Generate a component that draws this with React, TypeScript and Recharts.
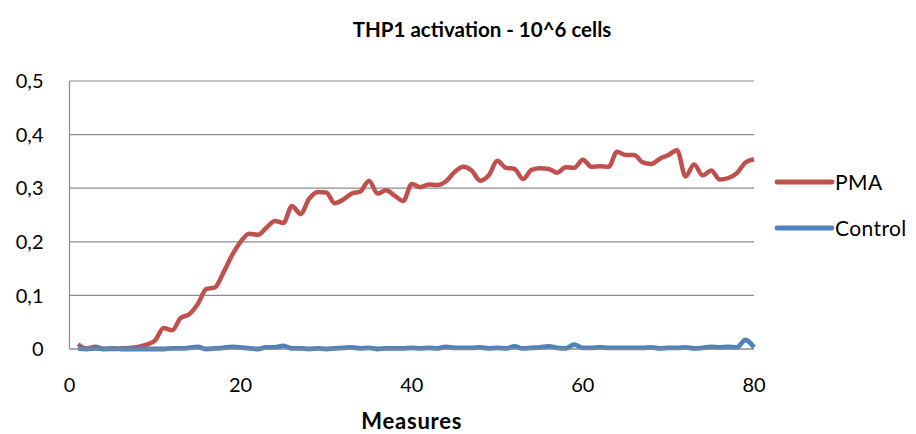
import React from 'react';
import { LineChart, Line, XAxis, YAxis, CartesianGrid } from 'recharts';

const measures = [
  1, 2, 3, 4, 5, 6, 7, 8, 9, 10, 11, 12, 13, 14, 15, 16, 17, 18, 19, 20,
  21, 22, 23, 24, 25, 26, 27, 28, 29, 30, 31, 32, 33, 34, 35, 36, 37, 38, 39, 40,
  41, 42, 43, 44, 45, 46, 47, 48, 49, 50, 51, 52, 53, 54, 55, 56, 57, 58, 59, 60,
  61, 62, 63, 64, 65, 66, 67, 68, 69, 70, 71, 72, 73, 74, 75, 76, 77, 78, 79, 80,
];

const pma = [
  0.009, 0.001, 0.004, 0.0, 0.0, 0.001, 0.002, 0.004, 0.008, 0.016,
  0.039, 0.035, 0.058, 0.065, 0.084, 0.112, 0.115, 0.143, 0.175, 0.2,
  0.215, 0.213, 0.226, 0.239, 0.235, 0.267, 0.252, 0.28, 0.293, 0.292,
  0.272, 0.279, 0.29, 0.294, 0.314, 0.29, 0.296, 0.286, 0.276, 0.308,
  0.302, 0.307, 0.306, 0.313, 0.33, 0.34, 0.333, 0.314, 0.324, 0.351,
  0.338, 0.336, 0.317, 0.334, 0.337, 0.336, 0.329, 0.339, 0.338, 0.353,
  0.34, 0.341, 0.34, 0.368, 0.362, 0.362, 0.348, 0.345, 0.355, 0.362,
  0.371, 0.322, 0.344, 0.324, 0.333, 0.316, 0.319, 0.328, 0.348, 0.354,
];

const control = [
  0.001, 0.0, 0.001, 0.0, 0.001, 0.0, 0.0, 0.0, 0.0, 0.0,
  0.0, 0.001, 0.001, 0.002, 0.004, 0.0, 0.001, 0.002, 0.004, 0.003,
  0.001, 0.0, 0.003, 0.003, 0.006, 0.001, 0.001, 0.0, 0.001, 0.0,
  0.001, 0.002, 0.003, 0.001, 0.002, 0.0, 0.001, 0.001, 0.001, 0.002,
  0.001, 0.002, 0.001, 0.004, 0.002, 0.002, 0.002, 0.003, 0.001, 0.002,
  0.001, 0.005, 0.001, 0.002, 0.003, 0.005, 0.002, 0.001, 0.008, 0.002,
  0.002, 0.003, 0.002, 0.002, 0.002, 0.002, 0.002, 0.003, 0.001, 0.002,
  0.002, 0.003, 0.001, 0.002, 0.004, 0.003, 0.004, 0.003, 0.017, 0.003,
];

const xTicks = [0, 20, 40, 60, 80];
const yTicks = [0, 0.1, 0.2, 0.3, 0.4, 0.5];

const seriesNames = ['PMA', 'Control'];
const seriesColors = ['#C0504D', '#4F81BD'];

const data = measures.map((m, i) => ({ measure: m, pma: pma[i], control: control[i] }));

const FONT = 'Lato, "Open Sans", sans-serif';
const GRID = '#8c8c8c';

const App: React.FC = () => {
  return (
    <div style={{ position: 'relative', width: 900, height: 426, fontFamily: FONT }}>
      <LineChart
        width={900}
        height={426}
        data={data}
        margin={{ top: 73, right: 154, left: 0, bottom: 0 }}
      >
        <CartesianGrid vertical={false} stroke={GRID} strokeWidth={1.2} />
        <XAxis
          dataKey="measure"
          type="number"
          domain={[0, 80]}
          ticks={xTicks}
          height={85}
          axisLine={{ stroke: GRID, strokeWidth: 1.2 }}
          tickLine={false}
          tickSize={0}
          tickMargin={29}
          tick={{ fontSize: 20, fill: '#000', fontFamily: FONT }}
          label={{ value: 'Measures', position: 'insideBottom', offset: 5, fontSize: 22, fontWeight: 'bold', letterSpacing: 0.8, fill: '#000', fontFamily: FONT }}
        />
        <YAxis
          domain={[0, 0.5]}
          ticks={yTicks}
          width={61.5}
          axisLine={{ stroke: GRID, strokeWidth: 1.2 }}
          tickLine={false}
          tickSize={0}
          tickMargin={26}
          tick={{ fontSize: 20, fill: '#000', fontFamily: FONT }}
          tickFormatter={(v: number) => String(Math.round(v * 10) / 10).replace('.', ',')}
        />
        <Line type="monotone" dataKey="pma" name="PMA" stroke={seriesColors[0]} strokeWidth={4.5} dot={false} isAnimationActive={false} />
        <Line type="monotone" dataKey="control" name="Control" stroke={seriesColors[1]} strokeWidth={4.8} dot={false} isAnimationActive={false} />
      </LineChart>
      <svg width={908} height={426} style={{ position: 'absolute', left: 0, top: 0, pointerEvents: 'none', overflow: 'visible' }}>
        <text x={474} y={29} textAnchor="middle" fontSize={20.5} fontWeight="bold" fontFamily={FONT} fill="#000">
          THP1 activation - 10^6 cells
        </text>
        {seriesNames.map((name, i) => (
          <g key={name}>
            <line x1={769} x2={824} y1={174 + i * 46} y2={174 + i * 46} stroke={seriesColors[i]} strokeWidth={4.8} strokeLinecap="round" />
            <text x={827} y={181.5 + i * 46} fontSize={21} letterSpacing={0.4} fontFamily={FONT} fill="#000">{name}</text>
          </g>
        ))}
      </svg>
    </div>
  );
};

export default App;
